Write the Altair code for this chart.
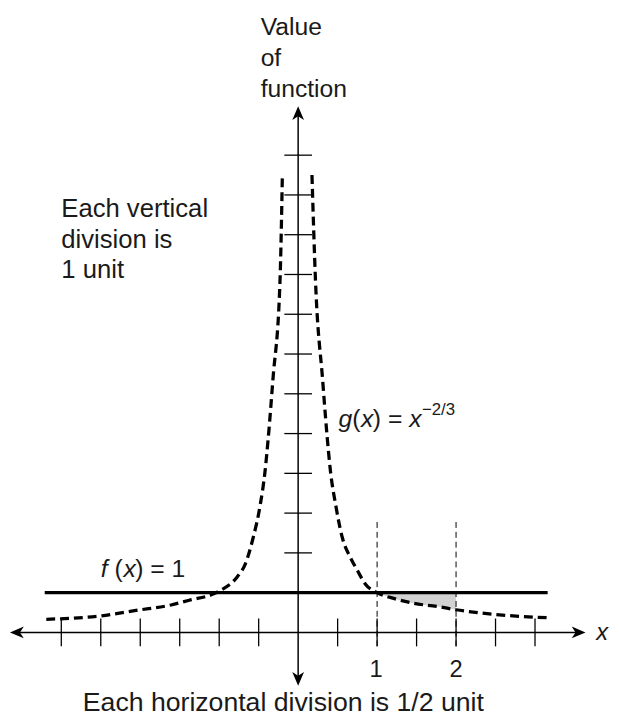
import altair as alt
import pandas as pd

# ---- data ----
x_ticks = [-3, -2.5, -2, -1.5, -1, -0.5, 0.5, 1, 1.5, 2, 2.5, 3]
y_ticks = [1, 2, 3, 4, 5, 6, 7, 8, 9, 10, 11, 12]

g_left_x = [-3.19, -2.53, -2.03, -1.61, -1.38, -1.07, -0.98, -0.775, -0.67, -0.57, -0.48, -0.42, -0.38, -0.32, -0.23, -0.2]
g_left_y = [0.33, 0.41, 0.56, 0.69, 0.81, 0.97, 1.06, 1.39, 1.72, 2.38, 3.21, 4.04, 4.86, 6.35, 8.83, 11.5]

g_right_x = [0.175, 0.22, 0.31, 0.37, 0.41, 0.475, 0.56, 0.66, 0.75, 0.85, 1.0, 1.22, 1.47, 1.77, 2.0, 2.51, 3.16]
g_right_y = [11.5, 8.83, 6.35, 4.86, 4.04, 3.21, 2.38, 1.89, 1.56, 1.22, 1.0, 0.85, 0.73, 0.65, 0.57, 0.45, 0.37]

f_x = [-3.21, 3.16]
f_y = [1, 1]

shade_from, shade_to = 1, 2
bounds_x = [1, 2]
bounds_top = 2.83

x_axis_ends = [-3.6, 3.58]
y_axis_ends = [-1.25, 13.1]

FONT = "Liberation Sans"
W, H = 611, 711
X0PX, XU = 294, 80.0     # origin / unit in chart pixels
Y0PX, YU = 628, 40.3
TX, TY = 0.175, 0.35     # half tick lengths in data units

xs = alt.Scale(domain=[-X0PX / XU, (W - X0PX) / XU], nice=False, zero=False)
ys = alt.Scale(domain=[-(H - Y0PX) / YU, Y0PX / YU], nice=False, zero=False)

def X(field="x"):
    return alt.X(field, type="quantitative", scale=xs, axis=None)

def Y(field="y"):
    return alt.Y(field, type="quantitative", scale=ys, axis=None)

left_df = pd.DataFrame({"x": g_left_x, "y": g_left_y})
right_df = pd.DataFrame({"x": g_right_x, "y": g_right_y})
shade_df = right_df[(right_df.x >= shade_from) & (right_df.x <= shade_to)].reset_index(drop=True)
shade_df["y2"] = 1.0
f_df = pd.DataFrame({"x": f_x, "y": f_y})

shade = alt.Chart(shade_df).mark_area(color="#d2d2d2", interpolate="monotone").encode(
    x=X(), y=Y(), y2=alt.Y2("y2"))

dash = dict(color="black", strokeWidth=3.3, strokeDash=[9, 5], interpolate="monotone")
g_left = alt.Chart(left_df).mark_line(**dash).encode(x=X(), y=Y())
g_right = alt.Chart(right_df).mark_line(**dash).encode(x=X(), y=Y())
f_line = alt.Chart(f_df).mark_line(color="black", strokeWidth=3.2).encode(x=X(), y=Y())

vd_df = pd.DataFrame({"x": bounds_x, "y": [-TY] * len(bounds_x), "y2": [bounds_top] * len(bounds_x)})
vdash = alt.Chart(vd_df).mark_rule(color="black", strokeWidth=1, strokeDash=[6, 4]).encode(
    x=X(), y=Y(), y2=alt.Y2("y2"))

x_axis = alt.Chart(pd.DataFrame({"x": x_axis_ends, "y": [0, 0]})).mark_line(
    color="black", strokeWidth=1.5).encode(x=X(), y=Y())
y_axis = alt.Chart(pd.DataFrame({"x": [0, 0], "y": y_axis_ends})).mark_line(
    color="black", strokeWidth=1.5).encode(x=X(), y=Y())

xt_df = pd.DataFrame({"x": x_ticks, "y": [-TY] * len(x_ticks), "y2": [TY] * len(x_ticks)})
xt = alt.Chart(xt_df).mark_rule(color="black", strokeWidth=1.3).encode(x=X(), y=Y(), y2=alt.Y2("y2"))
yt_df = pd.DataFrame({"y": y_ticks, "x": [-TX] * len(y_ticks), "x2": [TX] * len(y_ticks)})
yt = alt.Chart(yt_df).mark_rule(color="black", strokeWidth=1.3).encode(y=Y(), x=X(), x2=alt.X2("x2"))

R = "M 0 0 L -2 -0.85 L -1.45 0 L -2 0.85 Z"
L = "M 0 0 L 2 -0.85 L 1.45 0 L 2 0.85 Z"
U = "M 0 0 L -0.85 2 L 0 1.45 L 0.85 2 Z"
D = "M 0 0 L -0.85 -2 L 0 -1.45 L 0.85 -2 Z"

def arrow(path, x, y):
    return alt.Chart(pd.DataFrame({"x": [x], "y": [y]})).mark_point(
        shape=path, size=196, filled=True, color="black", opacity=1, strokeWidth=0).encode(
        x=X(), y=Y())

arrows = [arrow(R, 3.64, 0), arrow(L, -3.65, 0), arrow(U, 0, 13.23), arrow(D, 0, -1.34)]

def txt(s, px, py, size=25, align="left", style="normal", dx=0, dy=0, lh=31):
    return alt.Chart(pd.DataFrame({"k": [0]})).mark_text(
        text=s, font=FONT, fontSize=size, fontStyle=style, align=align,
        baseline="alphabetic", color="#1a1a1a", dx=dx, dy=dy,
        lineBreak="\n", lineHeight=lh).encode(
        x=alt.value(px - 8), y=alt.value(py - 8))

texts = [
    txt("Value\nof\nfunction", 264, 31, size=25),
    txt("Each vertical\ndivision is\n1 unit", 62, 215, size=26),
    # g(x) = x^-2/3
    txt("g", 343, 428, style="italic"),
    txt("(", 343, 428, dx=13.9),
    txt("x", 343, 428, style="italic", dx=22.7),
    txt(") =", 343, 428, dx=34.7),
    txt("x", 343, 428, style="italic", dx=71.6),
    txt("\u22122/3", 343, 428, size=17, dx=84.5, dy=-12),
    # f(x) = 1
    txt("f", 102, 580, style="italic"),
    txt("(", 102, 580, dx=14),
    txt("x", 102, 580, style="italic", dx=23),
    txt(") = 1", 102, 580, dx=35),
    txt("x", 604, 644, style="italic", size=24),
    txt("1", 381, 681, align="center", size=24),
    txt("2", 462, 681, align="center", size=24),
    txt("Each horizontal division is 1/2 unit", 287, 716, align="center", size=27),
]

chart = alt.layer(shade, vdash, g_left, g_right, f_line, x_axis, y_axis, xt, yt, *arrows, *texts).properties(
    width=W, height=H, autosize=alt.AutoSizeParams(type="none"), padding=0
).configure_view(strokeWidth=0)

chart.save("out.html", embed_options={"renderer": "svg", "actions": False})
